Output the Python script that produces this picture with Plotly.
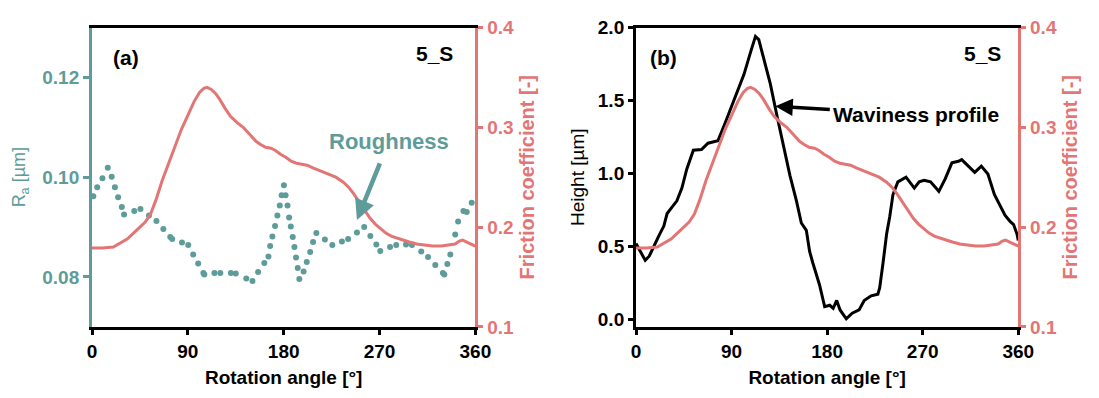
import plotly.graph_objects as go

# ---------------- data ----------------
fric_angle = [0, 10, 20, 27, 33, 40, 45, 50, 55, 60, 66, 72, 78, 84, 90, 96, 101, 105, 108, 112,
              116, 120, 125, 130, 136, 142, 148, 154, 158, 163, 168, 172, 177, 182, 187, 192, 197,
              202, 208, 215, 222, 229, 236, 241, 246, 251, 256, 261, 266, 271, 276, 281, 286, 292,
              298, 305, 312, 320, 328, 336, 341, 345, 348, 352, 356, 360]
friction = [0.179, 0.179, 0.180, 0.184, 0.188, 0.195, 0.200, 0.205, 0.213, 0.227, 0.247, 0.265,
            0.281, 0.298, 0.312, 0.326, 0.335, 0.339, 0.340, 0.338, 0.334, 0.328, 0.319, 0.311,
            0.305, 0.300, 0.293, 0.286, 0.283, 0.280, 0.279, 0.277, 0.273, 0.270, 0.266, 0.264,
            0.263, 0.262, 0.259, 0.256, 0.253, 0.250, 0.245, 0.240, 0.233, 0.225, 0.217, 0.209,
            0.203, 0.198, 0.194, 0.191, 0.189, 0.187, 0.185, 0.183, 0.182, 0.181, 0.181, 0.182,
            0.183, 0.186, 0.187, 0.185, 0.183, 0.181]

ra_angle = [1.2, 4.9, 9.8, 14.8, 18.5, 21.5, 24.5, 28.0, 30.1, 39.7, 45.5, 53.5, 60.5, 67.0, 73.5,
            75.3, 84.5, 90.4, 95.0, 99.7, 104.6, 105.5, 115.0, 120.5, 130.4, 135.0, 144.9, 150.7,
            156.0, 161.8, 165.7, 167.3, 169.4, 171.9, 174.1, 176.3, 178.1, 180.2, 181.8, 183.6,
            185.1, 186.7, 188.5, 190.1, 191.6, 193.2, 194.7, 198.7, 201.7, 204.9, 207.6, 210.7,
            218.7, 225.7, 234.7, 240.5, 248.8, 255.6, 261.4, 267.0, 270.7, 279.9, 285.7, 294.9,
            300.5, 309.2, 315.6, 322.4, 329.5, 330.9, 333.7, 336.5, 341.1, 343.8, 348.8, 351.9,
            356.6]
ra_value = [0.0962, 0.0980, 0.0998, 0.1019, 0.1001, 0.0980, 0.0960, 0.0940, 0.0925, 0.0932,
            0.0936, 0.0923, 0.0912, 0.0896, 0.0880, 0.0876, 0.0869, 0.0864, 0.0845, 0.0827,
            0.0808, 0.0805, 0.0808, 0.0808, 0.0808, 0.0807, 0.0797, 0.0792, 0.0810, 0.0828,
            0.0841, 0.0862, 0.0881, 0.0902, 0.0923, 0.0943, 0.0964, 0.0984, 0.0964, 0.0943,
            0.0919, 0.0901, 0.0880, 0.0860, 0.0839, 0.0818, 0.0796, 0.0811, 0.0830, 0.0850,
            0.0870, 0.0888, 0.0875, 0.0864, 0.0871, 0.0876, 0.0889, 0.0900, 0.0882, 0.0865,
            0.0852, 0.0860, 0.0864, 0.0865, 0.0864, 0.0851, 0.0840, 0.0824, 0.0808, 0.0805,
            0.0826, 0.0845, 0.0885, 0.0911, 0.0932, 0.0930, 0.0949]

wav_angle = [0, 4.6, 8.7, 12.4, 17, 21.6, 26.2, 29.3, 33.9, 38.5, 43.2, 47.8, 54, 61.7, 67.8, 77.1,
             83.2, 92.4, 101.7, 107.9, 112.5, 115.6, 120.3, 126.5, 132.7, 138.8, 145, 151.1, 155.7,
             160.4, 163.5, 166.4, 172.8, 177.7, 182.5, 185.7, 189, 192.2, 198, 203.6, 210.1, 214.9,
             221.4, 227.8, 229.5, 232.7, 236, 239, 242, 246.6, 254.3, 262.1, 266.7, 271.3, 277.4,
             285.2, 291.3, 297.5, 303.7, 306.7, 312.9, 319, 325.2, 331.4, 337.5, 343.6, 347.5,
             352.3, 355.6, 358.8, 360]
wav_height = [0.519, 0.454, 0.404, 0.432, 0.497, 0.573, 0.639, 0.725, 0.769, 0.812, 0.899, 1.029,
              1.159, 1.163, 1.207, 1.224, 1.332, 1.506, 1.679, 1.831, 1.939, 1.917, 1.787, 1.614,
              1.397, 1.180, 0.985, 0.812, 0.660, 0.610, 0.465, 0.389, 0.237, 0.086, 0.096, 0.075,
              0.129, 0.064, 0.003, 0.042, 0.064, 0.129, 0.161, 0.172, 0.216, 0.389, 0.584, 0.704,
              0.855, 0.942, 0.974, 0.899, 0.942, 0.953, 0.942, 0.877, 0.964, 1.072, 1.083, 1.094,
              1.050, 1.007, 1.050, 0.996, 0.855, 0.769, 0.714, 0.671, 0.649, 0.584, 0.541]

x_ticks = [0, 90, 180, 270, 360]
ra_ticks = [0.08, 0.10, 0.12]

# ---------------- style ----------------
W, H = 1099, 398
TEAL = "#5E9C9A"
PINK = "#E37575"
BLACK = "#000000"
FONT = "Liberation Sans, Arial, sans-serif"


def px(x):
    return x / W


def py(y):
    return 1 - y / H


ydom = [py(334.5), py(18.5)]
xdom1 = [px(88.7), px(479.5)]
xdom2 = [px(643.3), px(1033.0)]

fig = go.Figure()
fig.add_trace(go.Scatter(x=fric_angle, y=friction, mode="lines", line=dict(color=PINK, width=3),
                         xaxis="x", yaxis="y2", showlegend=False))
fig.add_trace(go.Scatter(x=ra_angle, y=ra_value, mode="markers",
                         marker=dict(color=TEAL, size=6), xaxis="x", yaxis="y", showlegend=False))
fig.add_trace(go.Scatter(x=wav_angle, y=wav_height, mode="lines", line=dict(color=BLACK, width=3),
                         xaxis="x2", yaxis="y3", showlegend=False))
fig.add_trace(go.Scatter(x=fric_angle, y=friction, mode="lines", line=dict(color=PINK, width=3),
                         xaxis="x2", yaxis="y4", showlegend=False))

TS = 19
tickfont_k = dict(family=FONT, size=TS, color=BLACK, weight="bold")
tickfont_t = dict(family=FONT, size=TS, color=TEAL, weight="bold")
tickfont_p = dict(family=FONT, size=TS, color=PINK, weight="bold")

xcommon = dict(range=[0, 360], tickvals=x_ticks, showline=True, linecolor=BLACK, linewidth=3,
               mirror=True, ticks="outside", ticklen=5, tickwidth=3, tickcolor=BLACK,
               showgrid=False, zeroline=False, tickfont=tickfont_k,
               title=dict(text="Rotation angle [°]", standoff=11,
                          font=dict(family=FONT, size=19, color=BLACK, weight="bold")))

fig.update_layout(
    width=W, height=H, margin=dict(l=0, r=0, t=0, b=0),
    paper_bgcolor="white", plot_bgcolor="white",
    xaxis=dict(domain=xdom1, anchor="y", **xcommon),
    xaxis2=dict(domain=xdom2, anchor="y3", **xcommon),
    yaxis=dict(domain=ydom, anchor="x", range=[0.07, 0.13], tickvals=ra_ticks, tickformat=".2f",
               showline=True, linecolor=TEAL, linewidth=3, ticks="outside", ticklen=6,
               tickwidth=3, tickcolor=TEAL, showgrid=False, zeroline=False, tickfont=tickfont_t,
               title=dict(text="R<sub>a</sub> [µm]", standoff=12,
                          font=dict(family=FONT, size=18, color=TEAL))),
    yaxis2=dict(domain=ydom, anchor="x", overlaying="y", side="right", range=[0.1, 0.4],
                dtick=0.1, tickformat=".1f", showline=True, linecolor=PINK, linewidth=3,
                ticks="outside", ticklen=5, tickwidth=3, tickcolor=PINK, showgrid=False,
                zeroline=False, tickfont=tickfont_p,
                title=dict(text="Friction coefficient [-]", standoff=8,
                           font=dict(family=FONT, size=20, color=PINK, weight="bold"))),
    yaxis3=dict(domain=ydom, anchor="x2", range=[-0.052, 2.0], dtick=0.5, tickformat=".1f",
                showline=True, linecolor=BLACK, linewidth=3, ticks="outside", ticklen=5,
                tickwidth=3, tickcolor=BLACK, showgrid=False, zeroline=False, tickfont=tickfont_k,
                title=dict(text="Height [µm]", standoff=9,
                           font=dict(family=FONT, size=19, color=BLACK))),
    yaxis4=dict(domain=ydom, anchor="x2", overlaying="y3", side="right", range=[0.1, 0.4],
                dtick=0.1, tickformat=".1f", showline=True, linecolor=PINK, linewidth=3,
                ticks="outside", ticklen=5, tickwidth=3, tickcolor=PINK, showgrid=False,
                zeroline=False, tickfont=tickfont_p,
                title=dict(text="Friction coefficient [-]", standoff=8,
                           font=dict(family=FONT, size=20, color=PINK, weight="bold"))),
)

lab = dict(family=FONT, size=21, color=BLACK, weight="bold")
annos = [
    dict(text="(a)", x=px(108), y=py(50), xanchor="left", yanchor="middle", font=lab),
    dict(text="5_S", x=px(459), y=py(46), xanchor="right", yanchor="middle", font=lab),
    dict(text="(b)", x=px(656), y=py(50), xanchor="left", yanchor="middle", font=lab),
    dict(text="5_S", x=px(1017), y=py(46), xanchor="right", yanchor="middle", font=lab),
]
for a in annos:
    a.update(xref="paper", yref="paper", showarrow=False)

# labelled arrows: tip in data coordinates, text placed by pixel offset
annos.append(dict(text="Roughness", x=248.8, y=0.0914, xref="x", yref="y", ax=32, ay=-79,
                  font=dict(family=FONT, size=22, color=TEAL, weight="bold"),
                  showarrow=True, arrowhead=2, arrowsize=0.9, arrowwidth=4.5, arrowcolor=TEAL,
                  startstandoff=9))
annos.append(dict(text="Waviness profile", x=131.2, y=1.46, xref="x2", yref="y3", ax=141, ay=8,
                  font=dict(family=FONT, size=21, color=BLACK, weight="bold"),
                  showarrow=True, arrowhead=2, arrowsize=1.0, arrowwidth=3.5, arrowcolor=BLACK,
                  startstandoff=2))
fig.update_layout(annotations=annos)

fig.write_html("out.html")
